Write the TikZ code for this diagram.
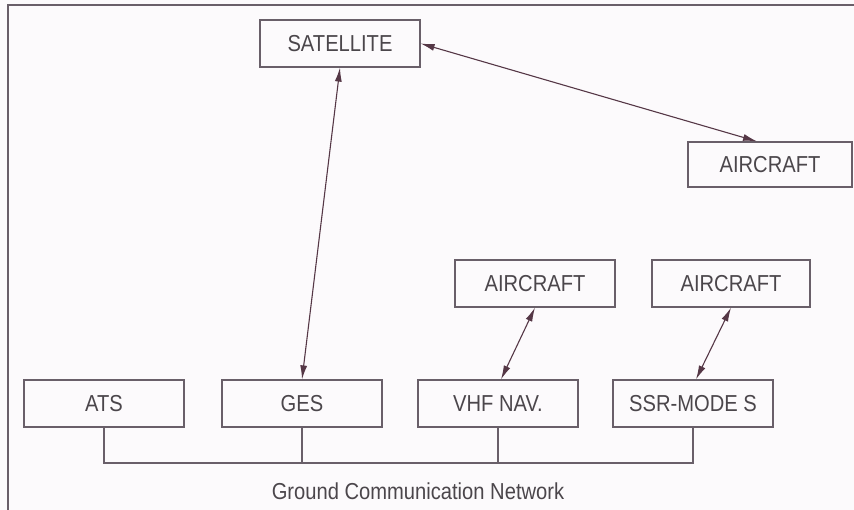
\documentclass[tikz,border=0pt]{standalone}
\usepackage{fontspec}
\setmainfont{Liberation Sans}
\usetikzlibrary{arrows.meta}
\definecolor{boxline}{RGB}{105,95,105}
\definecolor{arrline}{RGB}{85,55,70}
\definecolor{txt}{RGB}{75,70,75}
\definecolor{paper}{RGB}{252,250,252}
\newcommand{\tallt}[1]{\scalebox{0.96}[1.1]{#1}}
\begin{document}
\begin{tikzpicture}[x=1pt,y=-1pt,
  box/.style={draw=boxline, line width=1.2pt, minimum width=160pt, minimum height=47pt,
    inner sep=0pt, font=\fontsize{21}{24}\selectfont, text=txt},
  link/.style={draw=arrline, line width=1.1pt,
    {Latex[length=14pt,width=7pt]}-{Latex[length=14pt,width=7pt]}},
  bus/.style={draw=boxline, line width=1.1pt},
  lbl/.style={font=\fontsize{21}{24}\selectfont, text=txt, inner sep=0pt}]
\fill[paper] (0,0) rectangle (854,510);
\useasboundingbox (0,0) rectangle (854,510);
\draw[boxline, line width=1.3pt] (854,5) -- (8,5) -- (8,510);

\node[box] (sat) at (340,43.5) {\tallt{SATELLITE}};
\node[box, minimum width=164pt, minimum height=45pt] (actop) at (770,164.5) {\tallt{AIRCRAFT}};
\node[box] (ac1) at (535,283.5) {\tallt{AIRCRAFT}};
\node[box, minimum width=158pt] (ac2) at (731,283.5) {\tallt{AIRCRAFT}};
\node[box] (ats) at (104,403.5) {\tallt{ATS}};
\node[box] (ges) at (302,403.5) {\tallt{GES}};
\node[box] (vhf) at (498,403.5) {\tallt{VHF NAV.}};
\node[box] (ssr) at (693,403.5) {\tallt{SSR-MODE S}};
\node[lbl] (net) at (418,491) {\tallt{Ground Communication Network}};

\draw[link] (ges.north) -- (sat.south);
\draw[link] (sat.east) -- ([xshift=-13pt]actop.north);
\draw[link] (ac1.south) -- ([xshift=3pt]vhf.north);
\draw[link] (ac2.south) -- ([xshift=3pt]ssr.north);

\coordinate (busR) at (693,463);
\draw[bus] (ats.south) |- (busR) -- (ssr.south);
\draw[bus] (ges.south) -- (ges.south |- busR);
\draw[bus] (vhf.south) -- (vhf.south |- busR);
\end{tikzpicture}
\end{document}
